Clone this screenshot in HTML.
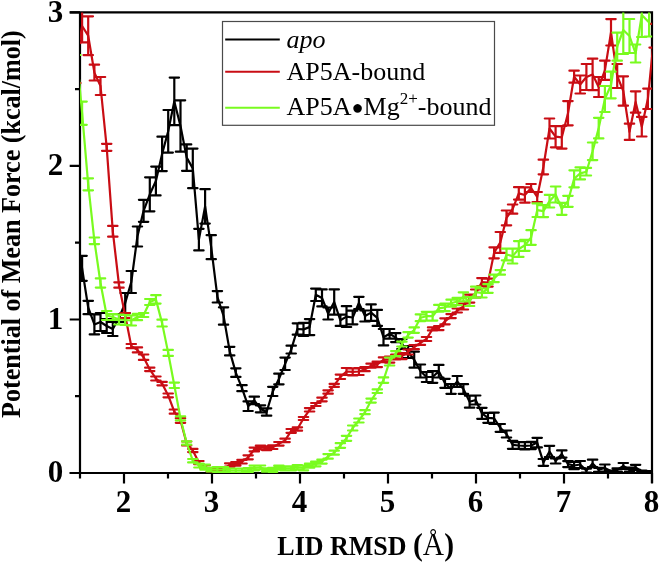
<!DOCTYPE html>
<html><head><meta charset="utf-8"><title>PMF vs LID RMSD</title>
<style>
html,body{margin:0;padding:0;background:#fff}
svg{display:block}
text{font-family:"Liberation Serif","Times New Roman",serif;fill:#000}
.tk{font-size:31px;font-weight:bold}
.ax{font-size:26px;font-weight:bold}
.lg{font-size:26px}
</style></head><body>
<svg width="660" height="563" viewBox="0 0 660 563">
<rect width="660" height="563" fill="#fff"/>
<defs><clipPath id="c"><rect x="80" y="12.4" width="572.1" height="460.6"/></clipPath></defs>
<g stroke="#000" stroke-width="2.2" fill="none">
<path d="M80.0 12.4V473.0M652.0 12.4V483.0 M69.7 12.4H653.1 M69.7 473.0H653.1"/>
<path d="M69.7 473.0H80.0M69.7 319.5H80.0M69.7 165.9H80.0M69.7 12.4H80.0M75.0 396.2H80.0M75.0 242.7H80.0M75.0 89.2H80.0M124.0 473.0V483.4M212.0 473.0V483.4M300.0 473.0V483.4M388.0 473.0V483.4M476.0 473.0V483.4M564.0 473.0V483.4M652.0 473.0V483.4M80.0 473.0V478.5M168.0 473.0V478.5M256.0 473.0V478.5M344.0 473.0V478.5M432.0 473.0V478.5M520.0 473.0V478.5M608.0 473.0V478.5"/>
</g>
<g clip-path="url(#c)">
<g stroke="#000" stroke-width="2.2" fill="none" stroke-linecap="butt" stroke-linejoin="round">
<polyline points="75.9,238.0 82.1,268.3 88.2,307.5 94.4,324.4 100.5,322.0 106.7,326.0 112.8,329.0 119.0,318.0 125.2,303.0 131.3,282.0 137.4,236.5 143.6,210.8 149.8,194.3 155.9,181.0 162.1,153.9 168.2,131.3 174.3,101.4 180.5,126.0 186.7,157.6 192.8,168.4 198.9,239.6 205.1,206.4 211.2,247.2 217.4,296.8 223.6,316.0 229.7,351.1 235.8,372.6 242.0,388.2 248.2,406.2 254.3,400.4 260.5,408.8 266.6,412.0 272.8,391.4 278.9,379.0 285.1,363.8 291.2,349.6 297.4,329.0 303.5,329.4 309.6,327.1 315.8,294.8 322.0,297.9 328.1,313.5 334.2,302.0 340.4,320.3 346.5,316.6 352.7,317.5 358.9,302.9 365.0,316.0 371.1,312.6 377.3,317.9 383.5,337.2 389.6,333.8 395.8,337.6 401.9,344.0 408.1,352.0 414.2,359.7 420.4,371.0 426.5,377.0 432.6,377.0 438.8,371.2 445.0,383.3 451.1,389.0 457.2,381.5 463.4,389.0 469.6,401.7 475.7,400.0 481.9,413.3 488.0,417.8 494.1,418.3 500.3,427.9 506.5,434.0 512.6,444.8 518.8,445.5 524.9,445.8 531.1,445.5 537.2,442.6 543.4,462.4 549.5,451.5 555.6,461.0 561.8,454.0 568.0,464.1 574.1,465.5 580.2,464.5 586.4,470.6 592.6,463.4 598.7,469.8 604.9,468.0 611.0,471.3 617.2,469.9 623.3,466.0 629.5,469.7 635.6,467.3 641.8,471.4 647.9,471.8 654.1,471.8"/>
<path stroke-linecap="round" d="M82.1 255.8V280.8M77.4 255.8H86.8M77.4 280.8H86.8M88.2 300.8V314.2M83.5 300.8H93.0M83.5 314.2H93.0M94.4 314.4V334.4M89.7 314.4H99.1M89.7 334.4H99.1M100.5 313.0V331.0M95.8 313.0H105.2M95.8 331.0H105.2M106.7 319.0V333.0M102.0 319.0H111.4M102.0 333.0H111.4M112.8 322.0V336.0M108.1 322.0H117.5M108.1 336.0H117.5M119.0 314.0V322.0M114.3 314.0H123.7M114.3 322.0H123.7M125.2 293.0V313.0M120.5 293.0H129.8M120.5 313.0H129.8M131.3 271.0V293.0M126.6 271.0H136.0M126.6 293.0H136.0M137.4 226.5V246.5M132.8 226.5H142.1M132.8 246.5H142.1M143.6 199.8V221.8M138.9 199.8H148.3M138.9 221.8H148.3M149.8 177.3V211.3M145.1 177.3H154.4M145.1 211.3H154.4M155.9 166.6V195.4M151.2 166.6H160.6M151.2 195.4H160.6M162.1 136.7V171.1M157.4 136.7H166.8M157.4 171.1H166.8M168.2 110.0V152.6M163.5 110.0H172.9M163.5 152.6H172.9M174.3 77.6V125.2M169.7 77.6H179.0M169.7 125.2H179.0M180.5 100.3V151.7M175.8 100.3H185.2M175.8 151.7H185.2M186.7 144.4V170.8M182.0 144.4H191.3M182.0 170.8H191.3M192.8 148.6V188.2M188.1 148.6H197.5M188.1 188.2H197.5M198.9 228.8V250.4M194.2 228.8H203.6M194.2 250.4H203.6M205.1 189.2V223.6M200.4 189.2H209.8M200.4 223.6H209.8M211.2 235.2V259.2M206.6 235.2H215.9M206.6 259.2H215.9M217.4 291.1V302.5M212.7 291.1H222.1M212.7 302.5H222.1M223.6 307.3V324.7M218.9 307.3H228.2M218.9 324.7H228.2M229.7 346.8V355.4M225.0 346.8H234.4M225.0 355.4H234.4M235.8 368.3V376.9M231.2 368.3H240.5M231.2 376.9H240.5M242.0 385.2V391.2M237.3 385.2H246.7M237.3 391.2H246.7M248.2 401.4V411.0M243.5 401.4H252.8M243.5 411.0H252.8M254.3 396.7V404.1M249.6 396.7H259.0M249.6 404.1H259.0M260.5 405.3V412.3M255.8 405.3H265.2M255.8 412.3H265.2M266.6 408.3V415.7M261.9 408.3H271.3M261.9 415.7H271.3M272.8 386.8V396.0M268.1 386.8H277.4M268.1 396.0H277.4M278.9 373.7V384.3M274.2 373.7H283.6M274.2 384.3H283.6M285.1 357.6V370.0M280.4 357.6H289.8M280.4 370.0H289.8M291.2 345.7V353.5M286.5 345.7H295.9M286.5 353.5H295.9M297.4 323.3V334.7M292.7 323.3H302.1M292.7 334.7H302.1M303.5 322.9V335.9M298.8 322.9H308.2M298.8 335.9H308.2M309.6 319.1V335.1M304.9 319.1H314.3M304.9 335.1H314.3M315.8 288.6V301.0M311.1 288.6H320.5M311.1 301.0H320.5M322.0 289.4V306.4M317.3 289.4H326.7M317.3 306.4H326.7M328.1 307.5V319.5M323.4 307.5H332.8M323.4 319.5H332.8M334.2 289.4V314.6M329.6 289.4H338.9M329.6 314.6H338.9M340.4 314.7V325.9M335.7 314.7H345.1M335.7 325.9H345.1M346.5 306.2V327.0M341.8 306.2H351.2M341.8 327.0H351.2M352.7 310.7V324.3M348.0 310.7H357.4M348.0 324.3H357.4M358.9 296.8V309.0M354.2 296.8H363.6M354.2 309.0H363.6M365.0 310.5V321.5M360.3 310.5H369.7M360.3 321.5H369.7M371.1 304.4V320.8M366.4 304.4H375.8M366.4 320.8H375.8M377.3 309.9V325.9M372.6 309.9H382.0M372.6 325.9H382.0M383.5 329.0V345.4M378.8 329.0H388.2M378.8 345.4H388.2M389.6 329.0V338.6M384.9 329.0H394.3M384.9 338.6H394.3M395.8 333.1V342.1M391.1 333.1H400.4M391.1 342.1H400.4M401.9 339.0V349.0M397.2 339.0H406.6M397.2 349.0H406.6M408.1 346.0V358.0M403.4 346.0H412.8M403.4 358.0H412.8M414.2 351.7V367.7M409.5 351.7H418.9M409.5 367.7H418.9M420.4 364.5V377.5M415.7 364.5H425.1M415.7 377.5H425.1M426.5 372.0V382.0M421.8 372.0H431.2M421.8 382.0H431.2M432.6 371.2V382.8M427.9 371.2H437.3M427.9 382.8H437.3M438.8 364.9V377.5M434.1 364.9H443.5M434.1 377.5H443.5M445.0 378.8V387.8M440.3 378.8H449.7M440.3 387.8H449.7M451.1 384.2V393.8M446.4 384.2H455.8M446.4 393.8H455.8M457.2 376.0V387.0M452.6 376.0H461.9M452.6 387.0H461.9M463.4 384.2V393.8M458.7 384.2H468.1M458.7 393.8H468.1M469.6 395.7V407.7M464.9 395.7H474.3M464.9 407.7H474.3M475.7 395.5V404.5M471.0 395.5H480.4M471.0 404.5H480.4M481.9 407.8V418.8M477.2 407.8H486.6M477.2 418.8H486.6M488.0 412.8V422.8M483.3 412.8H492.7M483.3 422.8H492.7M494.1 412.6V424.0M489.4 412.6H498.8M489.4 424.0H498.8M500.3 424.0V431.8M495.6 424.0H505.0M495.6 431.8H505.0M506.5 430.5V437.5M501.8 430.5H511.2M501.8 437.5H511.2M512.6 440.8V448.8M507.9 440.8H517.3M507.9 448.8H517.3M518.8 442.1V448.9M514.0 442.1H523.5M514.0 448.9H523.5M524.9 442.1V449.5M520.2 442.1H529.6M520.2 449.5H529.6M531.1 441.9V449.1M526.4 441.9H535.8M526.4 449.1H535.8M537.2 437.8V447.4M532.5 437.8H541.9M532.5 447.4H541.9M543.4 459.0V465.8M538.6 459.0H548.1M538.6 465.8H548.1M549.5 445.8V457.2M544.8 445.8H554.2M544.8 457.2H554.2M555.6 458.5V463.5M550.9 458.5H560.4M550.9 463.5H560.4M561.8 450.4V457.6M557.1 450.4H566.5M557.1 457.6H566.5M568.0 461.1V467.1M563.2 461.1H572.7M563.2 467.1H572.7M574.1 461.8V469.2M569.4 461.8H578.8M569.4 469.2H578.8M580.2 461.0V468.0M575.5 461.0H585.0M575.5 468.0H585.0M586.4 468.6V472.6M581.7 468.6H591.1M581.7 472.6H591.1M592.6 459.7V467.1M587.9 459.7H597.3M587.9 467.1H597.3M598.7 467.8V471.8M594.0 467.8H603.4M594.0 471.8H603.4M604.9 464.5V471.5M600.1 464.5H609.6M600.1 471.5H609.6M611.0 470.5V472.1M606.3 470.5H615.7M606.3 472.1H615.7M617.2 468.3V471.5M612.5 468.3H621.9M612.5 471.5H621.9M623.3 463.0V469.0M618.6 463.0H628.0M618.6 469.0H628.0M629.5 467.7V471.7M624.8 467.7H634.2M624.8 471.7H634.2M635.6 464.8V469.8M630.9 464.8H640.3M630.9 469.8H640.3M641.8 470.6V472.2M637.0 470.6H646.5M637.0 472.2H646.5M647.9 471.0V472.6M643.2 471.0H652.6M643.2 472.6H652.6M654.1 471.0V472.6M649.4 471.0H658.8M649.4 472.6H658.8"/>
</g>
<g stroke="#c90d14" stroke-width="2.2" fill="none" stroke-linecap="butt" stroke-linejoin="round">
<polyline points="75.9,63.0 82.1,26.0 88.2,35.7 94.4,72.6 100.5,86.0 106.7,147.3 112.8,231.3 119.0,285.0 125.2,315.5 131.3,346.1 137.4,349.9 143.6,357.2 149.8,369.4 155.9,378.5 162.1,383.6 168.2,395.4 174.3,411.6 180.5,420.5 186.7,443.5 192.8,450.5 198.9,462.6 205.1,466.8 211.2,470.0 217.4,471.0 223.6,469.0 229.7,465.0 235.8,463.8 242.0,461.7 248.2,457.3 254.3,449.5 260.5,447.5 266.6,448.2 272.8,447.2 278.9,443.8 285.1,440.4 291.2,430.9 297.4,429.0 303.5,418.5 309.6,409.8 315.8,404.5 322.0,399.5 328.1,392.0 334.2,385.4 340.4,376.8 346.5,371.5 352.7,371.9 358.9,371.5 365.0,369.2 371.1,365.7 377.3,364.4 383.5,359.8 389.6,359.6 395.8,357.0 401.9,356.1 408.1,352.0 414.2,347.2 420.4,342.9 426.5,339.0 432.6,328.9 438.8,328.1 445.0,321.3 451.1,316.1 457.2,310.5 463.4,306.5 469.6,298.6 475.7,293.5 481.9,282.1 488.0,282.6 494.1,252.8 500.3,242.4 506.5,217.9 512.6,209.1 518.8,193.4 524.9,195.0 531.1,188.0 537.2,197.0 543.4,167.0 549.5,128.5 555.6,136.7 561.8,137.3 568.0,113.2 574.1,76.7 580.2,84.5 586.4,77.0 592.6,74.4 598.7,87.0 604.9,70.3 611.0,32.3 617.2,76.0 623.3,91.0 629.5,131.8 635.6,102.0 641.8,126.7 647.9,98.8 654.1,35.7"/>
<path stroke-linecap="round" d="M75.9 43.0V83.0M71.2 43.0H80.6M71.2 83.0H80.6M82.1 9.6V42.4M77.4 9.6H86.8M77.4 42.4H86.8M88.2 16.3V55.1M83.5 16.3H93.0M83.5 55.1H93.0M94.4 64.7V80.5M89.7 64.7H99.1M89.7 80.5H99.1M100.5 77.0V95.0M95.8 77.0H105.2M95.8 95.0H105.2M106.7 143.8V150.8M102.0 143.8H111.4M102.0 150.8H111.4M112.8 225.9V236.7M108.1 225.9H117.5M108.1 236.7H117.5M119.0 282.3V287.7M114.3 282.3H123.7M114.3 287.7H123.7M125.2 313.0V318.0M120.5 313.0H129.8M120.5 318.0H129.8M131.3 344.0V348.2M126.6 344.0H136.0M126.6 348.2H136.0M137.4 347.4V352.4M132.8 347.4H142.1M132.8 352.4H142.1M143.6 354.5V359.9M138.9 354.5H148.3M138.9 359.9H148.3M149.8 367.7V371.1M145.1 367.7H154.4M145.1 371.1H154.4M155.9 376.5V380.5M151.2 376.5H160.6M151.2 380.5H160.6M162.1 381.9V385.3M157.4 381.9H166.8M157.4 385.3H166.8M168.2 393.5V397.3M163.5 393.5H172.9M163.5 397.3H172.9M174.3 409.5V413.7M169.7 409.5H179.0M169.7 413.7H179.0M180.5 418.2V422.8M175.8 418.2H185.2M175.8 422.8H185.2M186.7 441.5V445.5M182.0 441.5H191.3M182.0 445.5H191.3M192.8 448.9V452.1M188.1 448.9H197.5M188.1 452.1H197.5M198.9 461.0V464.2M194.2 461.0H203.6M194.2 464.2H203.6M205.1 465.2V468.4M200.4 465.2H209.8M200.4 468.4H209.8M211.2 468.5V471.5M206.6 468.5H215.9M206.6 471.5H215.9M217.4 469.5V472.5M212.7 469.5H222.1M212.7 472.5H222.1M223.6 467.5V470.5M218.9 467.5H228.2M218.9 470.5H228.2M229.7 463.3V466.7M225.0 463.3H234.4M225.0 466.7H234.4M235.8 462.0V465.6M231.2 462.0H240.5M231.2 465.6H240.5M242.0 459.9V463.5M237.3 459.9H246.7M237.3 463.5H246.7M248.2 455.3V459.3M243.5 455.3H252.8M243.5 459.3H252.8M254.3 447.6V451.4M249.6 447.6H259.0M249.6 451.4H259.0M260.5 445.5V449.5M255.8 445.5H265.2M255.8 449.5H265.2M266.6 446.3V450.1M261.9 446.3H271.3M261.9 450.1H271.3M272.8 445.4V449.0M268.1 445.4H277.4M268.1 449.0H277.4M278.9 442.0V445.6M274.2 442.0H283.6M274.2 445.6H283.6M285.1 438.7V442.1M280.4 438.7H289.8M280.4 442.1H289.8M291.2 429.0V432.8M286.5 429.0H295.9M286.5 432.8H295.9M297.4 427.3V430.7M292.7 427.3H302.1M292.7 430.7H302.1M303.5 417.0V420.0M298.8 417.0H308.2M298.8 420.0H308.2M309.6 408.1V411.5M304.9 408.1H314.3M304.9 411.5H314.3M315.8 403.0V406.0M311.1 403.0H320.5M311.1 406.0H320.5M322.0 397.7V401.3M317.3 397.7H326.7M317.3 401.3H326.7M328.1 390.3V393.7M323.4 390.3H332.8M323.4 393.7H332.8M334.2 383.9V386.9M329.6 383.9H338.9M329.6 386.9H338.9M340.4 374.6V379.0M335.7 374.6H345.1M335.7 379.0H345.1M346.5 368.0V375.0M341.8 368.0H351.2M341.8 375.0H351.2M352.7 368.4V375.4M348.0 368.4H357.4M348.0 375.4H357.4M358.9 368.0V375.0M354.2 368.0H363.6M354.2 375.0H363.6M365.0 367.2V371.2M360.3 367.2H369.7M360.3 371.2H369.7M371.1 363.7V367.7M366.4 363.7H375.8M366.4 367.7H375.8M377.3 361.7V367.1M372.6 361.7H382.0M372.6 367.1H382.0M383.5 357.4V362.2M378.8 357.4H388.2M378.8 362.2H388.2M389.6 356.6V362.6M384.9 356.6H394.3M384.9 362.6H394.3M395.8 354.5V359.5M391.1 354.5H400.4M391.1 359.5H400.4M401.9 353.1V359.1M397.2 353.1H406.6M397.2 359.1H406.6M408.1 349.5V354.5M403.4 349.5H412.8M403.4 354.5H412.8M414.2 345.2V349.2M409.5 345.2H418.9M409.5 349.2H418.9M420.4 340.9V344.9M415.7 340.9H425.1M415.7 344.9H425.1M426.5 337.0V341.0M421.8 337.0H431.2M421.8 341.0H431.2M432.6 327.4V330.4M427.9 327.4H437.3M427.9 330.4H437.3M438.8 326.1V330.1M434.1 326.1H443.5M434.1 330.1H443.5M445.0 318.3V324.3M440.3 318.3H449.7M440.3 324.3H449.7M451.1 314.1V318.1M446.4 314.1H455.8M446.4 318.1H455.8M457.2 308.5V312.5M452.6 308.5H461.9M452.6 312.5H461.9M463.4 303.5V309.5M458.7 303.5H468.1M458.7 309.5H468.1M469.6 294.6V302.6M464.9 294.6H474.3M464.9 302.6H474.3M475.7 289.5V297.5M471.0 289.5H480.4M471.0 297.5H480.4M481.9 278.1V286.1M477.2 278.1H486.6M477.2 286.1H486.6M488.0 278.6V286.6M483.3 278.6H492.7M483.3 286.6H492.7M494.1 247.3V258.3M489.4 247.3H498.8M489.4 258.3H498.8M500.3 232.0V252.8M495.6 232.0H505.0M495.6 252.8H505.0M506.5 210.5V225.3M501.8 210.5H511.2M501.8 225.3H511.2M512.6 204.5V213.7M507.9 204.5H517.3M507.9 213.7H517.3M518.8 187.2V199.6M514.0 187.2H523.5M514.0 199.6H523.5M524.9 187.3V202.7M520.2 187.3H529.6M520.2 202.7H529.6M531.1 184.0V192.0M526.4 184.0H535.8M526.4 192.0H535.8M537.2 192.0V202.0M532.5 192.0H541.9M532.5 202.0H541.9M543.4 159.7V174.3M538.6 159.7H548.1M538.6 174.3H548.1M549.5 118.5V138.5M544.8 118.5H554.2M544.8 138.5H554.2M555.6 126.1V147.3M550.9 126.1H560.4M550.9 147.3H560.4M561.8 126.0V148.6M557.1 126.0H566.5M557.1 148.6H566.5M568.0 101.1V125.3M563.2 101.1H572.7M563.2 125.3H572.7M574.1 70.7V82.7M569.4 70.7H578.8M569.4 82.7H578.8M580.2 75.5V93.5M575.5 75.5H585.0M575.5 93.5H585.0M586.4 64.0V90.0M581.7 64.0H591.1M581.7 90.0H591.1M592.6 58.7V90.1M587.9 58.7H597.3M587.9 90.1H597.3M598.7 77.0V97.0M594.0 77.0H603.4M594.0 97.0H603.4M604.9 60.7V79.9M600.1 60.7H609.6M600.1 79.9H609.6M611.0 19.1V45.5M606.3 19.1H615.7M606.3 45.5H615.7M617.2 64.0V88.0M612.5 64.0H621.9M612.5 88.0H621.9M623.3 76.3V105.7M618.6 76.3H628.0M618.6 105.7H628.0M629.5 123.7V139.9M624.8 123.7H634.2M624.8 139.9H634.2M635.6 91.3V112.7M630.9 91.3H640.3M630.9 112.7H640.3M641.8 116.9V136.5M637.0 116.9H646.5M637.0 136.5H646.5M647.9 88.6V109.0M643.2 88.6H652.6M643.2 109.0H652.6M654.1 23.8V47.6M649.4 23.8H658.8M649.4 47.6H658.8"/>
</g>
<g stroke="#79fb1f" stroke-width="2.2" fill="none" stroke-linecap="butt" stroke-linejoin="round">
<polyline points="75.9,45.5 82.1,113.2 88.2,184.3 94.4,240.8 100.5,283.0 106.7,315.5 112.8,317.0 119.0,319.5 125.2,320.0 131.3,320.5 137.4,317.0 143.6,315.0 149.8,302.0 155.9,299.4 162.1,323.1 168.2,352.9 174.3,385.3 180.5,418.4 186.7,443.0 192.8,460.7 198.9,465.5 205.1,467.2 211.2,469.5 217.4,469.5 223.6,469.5 229.7,470.5 235.8,470.5 242.0,470.5 248.2,470.0 254.3,468.0 260.5,467.5 266.6,470.0 272.8,469.8 278.9,467.7 285.1,468.4 291.2,468.4 297.4,467.4 303.5,468.0 309.6,465.7 315.8,464.0 322.0,461.6 328.1,456.4 334.2,452.7 340.4,445.5 346.5,438.3 352.7,428.0 358.9,420.5 365.0,412.2 371.1,400.6 377.3,391.2 383.5,380.1 389.6,361.5 395.8,353.6 401.9,344.1 408.1,334.9 414.2,330.1 420.4,317.8 426.5,316.2 432.6,316.2 438.8,308.3 445.0,307.4 451.1,303.2 457.2,301.5 463.4,296.8 469.6,301.5 475.7,292.2 481.9,293.0 488.0,288.5 494.1,278.4 500.3,272.4 506.5,254.5 512.6,256.1 518.8,249.0 524.9,245.3 531.1,237.5 537.2,210.2 543.4,211.1 549.5,201.2 555.6,194.5 561.8,208.8 568.0,201.3 574.1,178.8 580.2,173.4 586.4,171.7 592.6,151.3 598.7,128.1 604.9,99.0 611.0,85.0 617.2,46.7 623.3,30.0 629.5,36.0 635.6,53.5 641.8,15.0 649.1,22.5"/>
<path stroke-linecap="round" d="M75.9 -60.0V55.0M71.2 -60.0H80.6M71.2 55.0H80.6M82.1 101.6V124.8M77.4 101.6H86.8M77.4 124.8H86.8M88.2 178.3V190.3M83.5 178.3H93.0M83.5 190.3H93.0M94.4 237.5V244.1M89.7 237.5H99.1M89.7 244.1H99.1M100.5 278.4V287.6M95.8 278.4H105.2M95.8 287.6H105.2M106.7 311.0V320.0M102.0 311.0H111.4M102.0 320.0H111.4M112.8 314.0V320.0M108.1 314.0H117.5M108.1 320.0H117.5M119.0 314.5V324.5M114.3 314.5H123.7M114.3 324.5H123.7M125.2 315.0V325.0M120.5 315.0H129.8M120.5 325.0H129.8M131.3 315.5V325.5M126.6 315.5H136.0M126.6 325.5H136.0M137.4 313.8V320.2M132.8 313.8H142.1M132.8 320.2H142.1M143.6 313.0V317.0M138.9 313.0H148.3M138.9 317.0H148.3M149.8 299.0V305.0M145.1 299.0H154.4M145.1 305.0H154.4M155.9 295.2V303.6M151.2 295.2H160.6M151.2 303.6H160.6M162.1 319.7V326.5M157.4 319.7H166.8M157.4 326.5H166.8M168.2 349.9V355.9M163.5 349.9H172.9M163.5 355.9H172.9M174.3 382.6V388.0M169.7 382.6H179.0M169.7 388.0H179.0M180.5 416.4V420.4M175.8 416.4H185.2M175.8 420.4H185.2M186.7 441.3V444.7M182.0 441.3H191.3M182.0 444.7H191.3M192.8 459.0V462.4M188.1 459.0H197.5M188.1 462.4H197.5M198.9 463.5V467.5M194.2 463.5H203.6M194.2 467.5H203.6M205.1 464.7V469.7M200.4 464.7H209.8M200.4 469.7H209.8M211.2 467.5V471.5M206.6 467.5H215.9M206.6 471.5H215.9M217.4 467.2V471.8M212.7 467.2H222.1M212.7 471.8H222.1M223.6 467.2V471.8M218.9 467.2H228.2M218.9 471.8H228.2M229.7 468.5V472.5M225.0 468.5H234.4M225.0 472.5H234.4M235.8 468.5V472.5M231.2 468.5H240.5M231.2 472.5H240.5M242.0 468.5V472.5M237.3 468.5H246.7M237.3 472.5H246.7M248.2 468.0V472.0M243.5 468.0H252.8M243.5 472.0H252.8M254.3 465.7V470.3M249.6 465.7H259.0M249.6 470.3H259.0M260.5 465.5V469.5M255.8 465.5H265.2M255.8 469.5H265.2M266.6 468.3V471.7M261.9 468.3H271.3M261.9 471.7H271.3M272.8 467.8V471.8M268.1 467.8H277.4M268.1 471.8H277.4M278.9 465.7V469.7M274.2 465.7H283.6M274.2 469.7H283.6M285.1 466.4V470.4M280.4 466.4H289.8M280.4 470.4H289.8M291.2 466.4V470.4M286.5 466.4H295.9M286.5 470.4H295.9M297.4 465.1V469.7M292.7 465.1H302.1M292.7 469.7H302.1M303.5 465.7V470.3M298.8 465.7H308.2M298.8 470.3H308.2M309.6 463.7V467.7M304.9 463.7H314.3M304.9 467.7H314.3M315.8 461.7V466.3M311.1 461.7H320.5M311.1 466.3H320.5M322.0 459.6V463.6M317.3 459.6H326.7M317.3 463.6H326.7M328.1 454.1V458.7M323.4 454.1H332.8M323.4 458.7H332.8M334.2 450.7V454.7M329.6 450.7H338.9M329.6 454.7H338.9M340.4 443.2V447.8M335.7 443.2H345.1M335.7 447.8H345.1M346.5 435.8V440.8M341.8 435.8H351.2M341.8 440.8H351.2M352.7 425.5V430.5M348.0 425.5H357.4M348.0 430.5H357.4M358.9 418.5V422.5M354.2 418.5H363.6M354.2 422.5H363.6M365.0 410.2V414.2M360.3 410.2H369.7M360.3 414.2H369.7M371.1 398.6V402.6M366.4 398.6H375.8M366.4 402.6H375.8M377.3 389.4V393.0M372.6 389.4H382.0M372.6 393.0H382.0M383.5 377.4V382.8M378.8 377.4H388.2M378.8 382.8H388.2M389.6 357.5V365.5M384.9 357.5H394.3M384.9 365.5H394.3M395.8 351.1V356.1M391.1 351.1H400.4M391.1 356.1H400.4M401.9 341.7V346.5M397.2 341.7H406.6M397.2 346.5H406.6M408.1 332.2V337.6M403.4 332.2H412.8M403.4 337.6H412.8M414.2 327.4V332.8M409.5 327.4H418.9M409.5 332.8H418.9M420.4 314.4V321.2M415.7 314.4H425.1M415.7 321.2H425.1M426.5 311.8V320.6M421.8 311.8H431.2M421.8 320.6H431.2M432.6 311.8V320.6M427.9 311.8H437.3M427.9 320.6H437.3M438.8 304.9V311.7M434.1 304.9H443.5M434.1 311.7H443.5M445.0 303.6V311.2M440.3 303.6H449.7M440.3 311.2H449.7M451.1 299.7V306.7M446.4 299.7H455.8M446.4 306.7H455.8M457.2 297.8V305.2M452.6 297.8H461.9M452.6 305.2H461.9M463.4 292.3V301.3M458.7 292.3H468.1M458.7 301.3H468.1M469.6 297.0V306.0M464.9 297.0H474.3M464.9 306.0H474.3M475.7 286.7V297.7M471.0 286.7H480.4M471.0 297.7H480.4M481.9 288.5V297.5M477.2 288.5H486.6M477.2 297.5H486.6M488.0 284.2V292.8M483.3 284.2H492.7M483.3 292.8H492.7M494.1 274.7V282.1M489.4 274.7H498.8M489.4 282.1H498.8M500.3 270.1V274.7M495.6 270.1H505.0M495.6 274.7H505.0M506.5 248.7V260.3M501.8 248.7H511.2M501.8 260.3H511.2M512.6 248.7V263.5M507.9 248.7H517.3M507.9 263.5H517.3M518.8 241.1V256.9M514.0 241.1H523.5M514.0 256.9H523.5M524.9 239.8V250.8M520.2 239.8H529.6M520.2 250.8H529.6M531.1 230.2V244.8M526.4 230.2H535.8M526.4 244.8H535.8M537.2 203.4V217.0M532.5 203.4H541.9M532.5 217.0H541.9M543.4 205.1V217.1M538.6 205.1H548.1M538.6 217.1H548.1M549.5 194.9V207.5M544.8 194.9H554.2M544.8 207.5H554.2M555.6 186.5V202.5M550.9 186.5H560.4M550.9 202.5H560.4M561.8 202.8V214.8M557.1 202.8H566.5M557.1 214.8H566.5M568.0 195.8V206.8M563.2 195.8H572.7M563.2 206.8H572.7M574.1 170.3V187.3M569.4 170.3H578.8M569.4 187.3H578.8M580.2 167.4V179.4M575.5 167.4H585.0M575.5 179.4H585.0M586.4 167.9V175.5M581.7 167.9H591.1M581.7 175.5H591.1M592.6 142.5V160.1M587.9 142.5H597.3M587.9 160.1H597.3M598.7 117.8V138.4M594.0 117.8H603.4M594.0 138.4H603.4M604.9 86.0V112.0M600.1 86.0H609.6M600.1 112.0H609.6M611.0 71.7V98.3M606.3 71.7H615.7M606.3 98.3H615.7M617.2 32.7V60.7M612.5 32.7H621.9M612.5 60.7H621.9M623.3 6.0V54.0M618.6 6.0H628.0M618.6 54.0H628.0M629.5 19.0V53.0M624.8 19.0H634.2M624.8 53.0H634.2M635.6 44.5V62.5M630.9 44.5H640.3M630.9 62.5H640.3M641.8 -7.0V37.0M637.0 -7.0H646.5M637.0 37.0H646.5M649.1 8.5V36.5M644.4 8.5H653.8M644.4 36.5H653.8"/>
</g>
</g>
<text x="63.3" y="482.4" text-anchor="end" class="tk">0</text><text x="63.3" y="328.9" text-anchor="end" class="tk">1</text><text x="63.3" y="175.3" text-anchor="end" class="tk">2</text><text x="63.3" y="21.8" text-anchor="end" class="tk">3</text>
<text x="123.5" y="512.4" text-anchor="middle" class="tk">2</text><text x="211.5" y="512.4" text-anchor="middle" class="tk">3</text><text x="299.5" y="512.4" text-anchor="middle" class="tk">4</text><text x="387.5" y="512.4" text-anchor="middle" class="tk">5</text><text x="475.5" y="512.4" text-anchor="middle" class="tk">6</text><text x="563.5" y="512.4" text-anchor="middle" class="tk">7</text><text x="651.5" y="512.4" text-anchor="middle" class="tk">8</text>
<text class="ax" style="font-size:26.1px" transform="translate(20.2,418) rotate(-90) scale(1,1.06)">Potential of Mean Force (kcal/mol)</text>
<text class="ax" transform="translate(277.3,554.6) scale(1,1.06)">LID RMSD <tspan font-size="29.5px">(<tspan font-weight="normal">Å</tspan>)</tspan></text>
<rect x="222.5" y="21.5" width="272" height="103.8" fill="#fff" stroke="#4a4a4a" stroke-width="1.2"/>
<g stroke-width="2" fill="none">
<path d="M225.2 39.5H279.8" stroke="#000"/>
<path d="M225.2 71.8H279.8" stroke="#c90d14"/>
<path d="M225.2 107.7H279.8" stroke="#79fb1f"/>
</g>
<text class="lg" x="286.5" y="48" font-style="italic">apo</text>
<text class="lg" x="286.5" y="79.8">AP5A-bound</text>
<text class="lg" x="286.5" y="115.4">AP5A<tspan font-size="20px" dy="-1.6">●</tspan><tspan dy="1.6">Mg</tspan><tspan font-size="17px" dy="-11.5">2+</tspan><tspan dy="11.5">-bound</tspan></text>
</svg>
</body></html>
